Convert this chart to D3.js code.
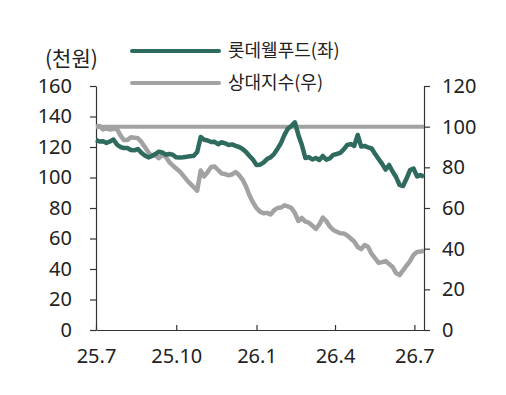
<!DOCTYPE html>
<html><head><meta charset="utf-8">
<script src="https://cdn.jsdelivr.net/npm/d3@7/dist/d3.min.js"></script>
<style>
html,body{margin:0;padding:0;background:#fff;}
svg text{font-family:"Noto Sans CJK KR","Noto Sans",sans-serif;fill:#222;}
</style></head>
<body><svg id="c" width="506" height="395"></svg>
<script>
// ---- data ----
const startDate = "2025-07-01";
const stepDays = 4;
const lotteWellfood = [124.6,123.6,123.8,122.7,123.6,124.9,121.6,120.0,119.3,119.3,118.0,117.8,118.7,116.2,114.4,113.2,114.1,115.4,116.9,116.4,115.0,115.4,114.9,113.2,113.1,113.3,113.6,114.0,114.3,116.7,126.6,124.7,124.3,123.3,123.4,121.8,123.1,122.4,121.3,121.7,120.7,120.0,118.7,116.7,114.1,111.7,108.2,108.4,109.8,112.1,113.2,115.4,118.7,122.6,127.9,132.0,133.8,136.1,127.9,121.3,112.8,113.4,111.8,112.8,111.5,114.1,111.7,112.5,114.8,115.4,116.1,118.4,121.3,121.9,120.7,127.9,120.3,120.7,119.7,119.0,115.4,112.1,108.9,105.2,108.2,103.9,100.3,95.1,94.4,99.3,104.9,105.9,100.7,101.6,100.5];
const relativeIndex = [100.0,100.3,98.6,99.6,98.6,98.9,98.9,95.7,93.4,93.4,94.8,94.6,94.3,92.5,90.0,87.4,85.5,86.0,84.5,86.1,85.2,82.6,80.9,79.4,78.0,75.9,73.8,72.0,70.3,68.5,78.4,75.5,77.7,80.2,80.4,78.7,77.0,76.7,76.1,76.5,77.7,76.2,74.0,70.6,66.1,62.7,60.0,58.2,57.4,57.6,56.8,58.8,60.0,60.2,61.3,60.8,60.0,57.5,53.6,55.1,53.3,52.8,51.3,49.7,51.9,55.3,53.6,50.9,49.2,48.3,47.6,47.5,46.5,45.0,43.5,40.8,39.8,41.8,40.8,37.4,35.2,33.0,33.4,33.9,32.5,31.0,28.0,27.0,29.3,31.7,33.9,36.9,38.4,38.6,39.0];
const baseValue = 100;
const xTickDates = ["2025-07-01","2025-10-01","2026-01-01","2026-04-01","2026-07-01"];
const leftTicks = [0,20,40,60,80,100,120,140,160];
const rightTicks = [0,20,40,60,80,100,120];
const seriesNames = ["롯데웰푸드(좌)","상대지수(우)"];
const unitLabel = "(천원)";

// ---- chart ----
const parse = d3.timeParse("%Y-%m-%d");
const t0 = parse(startDate);
const dates = lotteWellfood.map((_, i) => d3.timeDay.offset(t0, i * stepDays));
const endDate = d3.timeDay.offset(t0, (lotteWellfood.length - 1) * stepDays);

const svg = d3.select("#c");
const L = 96, R = 424, T = 86, B = 330;
const x = d3.scaleTime().domain([t0, endDate]).range([L, R]);
const yL = d3.scaleLinear().domain([0, 160]).range([B, T]);
const yR = d3.scaleLinear().domain([0, 120]).range([B, T]);

const green = "#2e6a5d", gray = "#a2a2a2";

// axes
const axL = svg.append("g").attr("transform", `translate(${L},0)`)
  .call(d3.axisLeft(yL).tickValues(leftTicks).tickSizeInner(6).tickSizeOuter(0).tickPadding(18));
const axR = svg.append("g").attr("transform", `translate(${R},0)`)
  .call(d3.axisRight(yR).tickValues(rightTicks).tickSizeInner(6).tickSizeOuter(0).tickPadding(12));
const axB = svg.append("g").attr("transform", `translate(0,${B})`)
  .call(d3.axisBottom(x).tickValues(xTickDates.map(parse)).tickFormat(d3.timeFormat("%y.%-m"))
    .tickSizeInner(-5).tickSizeOuter(0).tickPadding(19));
[axL, axR, axB].forEach(g => {
  g.selectAll("path.domain").attr("stroke", "#333").attr("stroke-width", 1.2);
  g.selectAll(".tick line").attr("stroke", "#333").attr("stroke-width", 1.2);
  g.selectAll("text").attr("font-size", 20).attr("fill", "#222")
    .style("font-family", '"Noto Sans","Noto Sans CJK KR",sans-serif');
});

// base line at 100 (right axis)
svg.append("line").attr("x1", L).attr("x2", R)
  .attr("y1", yR(baseValue)).attr("y2", yR(baseValue))
  .attr("stroke", gray).attr("stroke-width", 4);

const lineR = d3.line().x((d, i) => x(dates[i])).y(d => yR(d));
const lineL = d3.line().x((d, i) => x(dates[i])).y(d => yL(d));

svg.append("path").datum(relativeIndex).attr("d", lineR)
  .attr("fill", "none").attr("stroke", gray).attr("stroke-width", 4.5).attr("stroke-linejoin", "round");
svg.append("path").datum(lotteWellfood).attr("d", lineL)
  .attr("fill", "none").attr("stroke", green).attr("stroke-width", 4.5).attr("stroke-linejoin", "round");

// unit label
svg.append("text").attr("x", 45).attr("y", 59).attr("dy", "0.35em")
  .attr("font-size", 21).text(unitLabel);

// legend
const leg = [{c: green, y: 51}, {c: gray, y: 83}];
leg.forEach((l, i) => {
  svg.append("line").attr("x1", 132).attr("x2", 219).attr("y1", l.y).attr("y2", l.y)
    .attr("stroke", l.c).attr("stroke-width", 4).attr("stroke-linecap", "round");
  svg.append("text").attr("x", 228).attr("y", l.y).attr("dy", "0.35em")
    .attr("font-size", 18).text(seriesNames[i]);
});
</script></body></html>
